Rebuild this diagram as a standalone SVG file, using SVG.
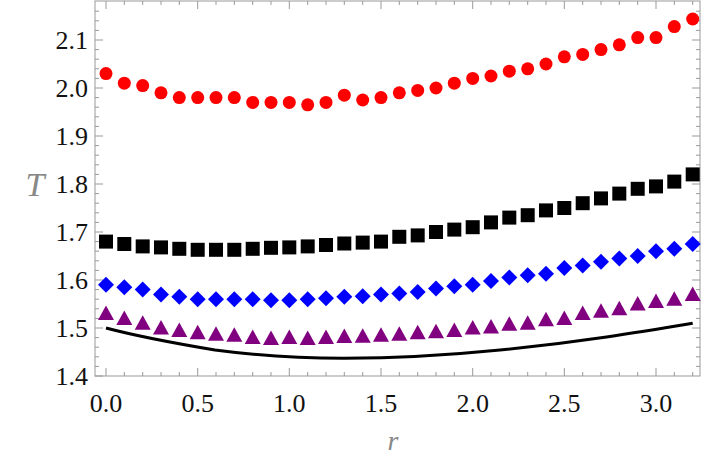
<svg xmlns="http://www.w3.org/2000/svg" width="706" height="464" viewBox="0 0 706 464">
<style>
.tk{stroke:#999;stroke-width:1;fill:none}
text{font-family:'Liberation Serif','DejaVu Serif',serif}
</style>
<defs>
<circle id="c" r="6.5" fill="#ff0000"/>
<rect id="s" x="-7" y="-7" width="14" height="14" fill="#000"/>
<path id="d" d="M0 -8 L8 0 L0 8 L-8 0Z" fill="#0000ff"/>
<path id="t" d="M0 -8 L8 6.5 L-8 6.5Z" fill="#800080"/>
</defs>
<g id="frame">
<rect x="95" y="1" width="605" height="375" fill="none" stroke="#999" stroke-width="1"/>
<path class="tk" d="M95 376h8M95 328h8M95 280h8M95 232h8M95 184h8M95 136h8M95 88h8M95 40h8M700 328h-8M700 280h-8M700 232h-8M700 184h-8M700 136h-8M700 88h-8M700 40h-8"/>
<path class="tk" d="M95 366.4h4M95 356.8h4M95 347.2h4M95 337.6h4M95 318.4h4M95 308.8h4M95 299.2h4M95 289.6h4M95 270.4h4M95 260.8h4M95 251.2h4M95 241.6h4M95 222.4h4M95 212.8h4M95 203.2h4M95 193.6h4M95 174.4h4M95 164.8h4M95 155.2h4M95 145.6h4M95 126.4h4M95 116.8h4M95 107.2h4M95 97.6h4M95 78.4h4M95 68.8h4M95 59.2h4M95 49.6h4M95 30.4h4M95 20.8h4M95 11.2h4M700 366.4h-4M700 356.8h-4M700 347.2h-4M700 337.6h-4M700 318.4h-4M700 308.8h-4M700 299.2h-4M700 289.6h-4M700 270.4h-4M700 260.8h-4M700 251.2h-4M700 241.6h-4M700 222.4h-4M700 212.8h-4M700 203.2h-4M700 193.6h-4M700 174.4h-4M700 164.8h-4M700 155.2h-4M700 145.6h-4M700 126.4h-4M700 116.8h-4M700 107.2h-4M700 97.6h-4M700 78.4h-4M700 68.8h-4M700 59.2h-4M700 49.6h-4M700 30.4h-4M700 20.8h-4M700 11.2h-4"/>
<path class="tk" d="M106 376v-8M197.7 376v-8M289.3 376v-8M381 376v-8M472.7 376v-8M564.3 376v-8M656 376v-8M106 1v8M197.7 1v8M289.3 1v8M381 1v8M472.7 1v8M564.3 1v8M656 1v8"/>
<path class="tk" d="M124.3 376v-4M142.7 376v-4M161 376v-4M179.3 376v-4M216 376v-4M234.3 376v-4M252.7 376v-4M271 376v-4M307.7 376v-4M326 376v-4M344.3 376v-4M362.7 376v-4M399.3 376v-4M417.7 376v-4M436 376v-4M454.3 376v-4M491 376v-4M509.3 376v-4M527.7 376v-4M546 376v-4M582.7 376v-4M601 376v-4M619.3 376v-4M637.7 376v-4M674.3 376v-4M692.7 376v-4M124.3 1v4M142.7 1v4M161 1v4M179.3 1v4M216 1v4M234.3 1v4M252.7 1v4M271 1v4M307.7 1v4M326 1v4M344.3 1v4M362.7 1v4M399.3 1v4M417.7 1v4M436 1v4M454.3 1v4M491 1v4M509.3 1v4M527.7 1v4M546 1v4M582.7 1v4M601 1v4M619.3 1v4M637.7 1v4M674.3 1v4M692.7 1v4"/>
</g>
<g id="ticklabels" font-size="26" fill="#111">
<g text-anchor="end">
<text x="88" y="385">1.4</text><text x="88" y="337">1.5</text><text x="88" y="289">1.6</text><text x="88" y="241">1.7</text><text x="88" y="193">1.8</text><text x="88" y="145">1.9</text><text x="88" y="97">2.0</text><text x="88" y="49">2.1</text>
</g>
<g text-anchor="middle">
<text x="106" y="412">0.0</text><text x="197.7" y="412">0.5</text><text x="289.3" y="412">1.0</text><text x="381" y="412">1.5</text><text x="472.7" y="412">2.0</text><text x="564.3" y="412">2.5</text><text x="656" y="412">3.0</text>
</g>
</g>
<g id="axislabels" font-style="italic" fill="#888" text-anchor="middle">
<text x="393" y="450" font-size="28">r</text>
<text x="35" y="196" font-size="34">T</text>
</g>
<g id="curve">
<path d="M106 328 C140 337 179 344 215 350 C260 356 300 358.2 344 358.2 C400 358.2 450 355 500 350 C580 342 640 332 692.7 323.2" fill="none" stroke="#000" stroke-width="3"/>
</g>
<g id="red">
<use href="#c" x="106" y="73.6"/><use href="#c" x="124.3" y="83.2"/><use href="#c" x="142.7" y="85.6"/><use href="#c" x="161" y="92.8"/><use href="#c" x="179.3" y="97.6"/><use href="#c" x="197.7" y="97.6"/><use href="#c" x="216" y="97.6"/><use href="#c" x="234.3" y="97.6"/><use href="#c" x="252.7" y="102.4"/><use href="#c" x="271" y="102.4"/><use href="#c" x="289.3" y="102.4"/><use href="#c" x="307.7" y="104.8"/><use href="#c" x="326" y="102.4"/><use href="#c" x="344.3" y="95.2"/><use href="#c" x="362.7" y="100"/><use href="#c" x="381" y="97.6"/><use href="#c" x="399.3" y="92.8"/><use href="#c" x="417.7" y="90.4"/><use href="#c" x="436" y="88"/><use href="#c" x="454.3" y="83.2"/><use href="#c" x="472.7" y="78.4"/><use href="#c" x="491" y="76"/><use href="#c" x="509.3" y="71.2"/><use href="#c" x="527.7" y="68.8"/><use href="#c" x="546" y="64"/><use href="#c" x="564.3" y="56.8"/><use href="#c" x="582.7" y="54.4"/><use href="#c" x="601" y="49.6"/><use href="#c" x="619.3" y="44.8"/><use href="#c" x="637.7" y="37.6"/><use href="#c" x="656" y="37.6"/><use href="#c" x="674.3" y="26.6"/><use href="#c" x="692.7" y="19"/>
</g>
<g id="black">
<use href="#s" x="106" y="241.6"/><use href="#s" x="124.3" y="244"/><use href="#s" x="142.7" y="246.4"/><use href="#s" x="161" y="247.4"/><use href="#s" x="179.3" y="248.8"/><use href="#s" x="197.7" y="249.8"/><use href="#s" x="216" y="249.8"/><use href="#s" x="234.3" y="249.8"/><use href="#s" x="252.7" y="248.8"/><use href="#s" x="271" y="247.8"/><use href="#s" x="289.3" y="247.4"/><use href="#s" x="307.7" y="246.4"/><use href="#s" x="326" y="245"/><use href="#s" x="344.3" y="243.5"/><use href="#s" x="362.7" y="242.6"/><use href="#s" x="381" y="241.6"/><use href="#s" x="399.3" y="236.8"/><use href="#s" x="417.7" y="235.4"/><use href="#s" x="436" y="232"/><use href="#s" x="454.3" y="229.6"/><use href="#s" x="472.7" y="227.2"/><use href="#s" x="491" y="222.4"/><use href="#s" x="509.3" y="217.6"/><use href="#s" x="527.7" y="215.2"/><use href="#s" x="546" y="210.4"/><use href="#s" x="564.3" y="208"/><use href="#s" x="582.7" y="203.2"/><use href="#s" x="601" y="198.4"/><use href="#s" x="619.3" y="193.6"/><use href="#s" x="637.7" y="188.8"/><use href="#s" x="656" y="186.4"/><use href="#s" x="674.3" y="181.6"/><use href="#s" x="692.7" y="174.4"/>
</g>
<g id="blue">
<use href="#d" x="106" y="284.8"/><use href="#d" x="124.3" y="287.2"/><use href="#d" x="142.7" y="289.6"/><use href="#d" x="161" y="294.4"/><use href="#d" x="179.3" y="296.8"/><use href="#d" x="197.7" y="299.2"/><use href="#d" x="216" y="299.2"/><use href="#d" x="234.3" y="299.2"/><use href="#d" x="252.7" y="299.2"/><use href="#d" x="271" y="300.2"/><use href="#d" x="289.3" y="300.2"/><use href="#d" x="307.7" y="299.2"/><use href="#d" x="326" y="298.2"/><use href="#d" x="344.3" y="296.8"/><use href="#d" x="362.7" y="296.3"/><use href="#d" x="381" y="294.4"/><use href="#d" x="399.3" y="293.4"/><use href="#d" x="417.7" y="292"/><use href="#d" x="436" y="288.6"/><use href="#d" x="454.3" y="286.2"/><use href="#d" x="472.7" y="284.8"/><use href="#d" x="491" y="281"/><use href="#d" x="509.3" y="277.6"/><use href="#d" x="527.7" y="275.2"/><use href="#d" x="546" y="273.8"/><use href="#d" x="564.3" y="268"/><use href="#d" x="582.7" y="265.6"/><use href="#d" x="601" y="261.8"/><use href="#d" x="619.3" y="258.4"/><use href="#d" x="637.7" y="256"/><use href="#d" x="656" y="251.2"/><use href="#d" x="674.3" y="248.8"/><use href="#d" x="692.7" y="244"/>
</g>
<g id="purple">
<use href="#t" x="106" y="313.6"/><use href="#t" x="124.3" y="318.4"/><use href="#t" x="142.7" y="323.2"/><use href="#t" x="161" y="328"/><use href="#t" x="179.3" y="330.4"/><use href="#t" x="197.7" y="332.8"/><use href="#t" x="216" y="334.2"/><use href="#t" x="234.3" y="335.2"/><use href="#t" x="252.7" y="337.6"/><use href="#t" x="271" y="338.6"/><use href="#t" x="289.3" y="337.6"/><use href="#t" x="307.7" y="338.6"/><use href="#t" x="326" y="337.6"/><use href="#t" x="344.3" y="336.6"/><use href="#t" x="362.7" y="336.2"/><use href="#t" x="381" y="335.2"/><use href="#t" x="399.3" y="334.2"/><use href="#t" x="417.7" y="332.8"/><use href="#t" x="436" y="331.8"/><use href="#t" x="454.3" y="330.4"/><use href="#t" x="472.7" y="328"/><use href="#t" x="491" y="327"/><use href="#t" x="509.3" y="324.2"/><use href="#t" x="527.7" y="323.2"/><use href="#t" x="546" y="319.8"/><use href="#t" x="564.3" y="318.4"/><use href="#t" x="582.7" y="313.6"/><use href="#t" x="601" y="311.2"/><use href="#t" x="619.3" y="308.8"/><use href="#t" x="637.7" y="304"/><use href="#t" x="656" y="301.6"/><use href="#t" x="674.3" y="299.2"/><use href="#t" x="692.7" y="294.4"/>
</g>
</svg>
